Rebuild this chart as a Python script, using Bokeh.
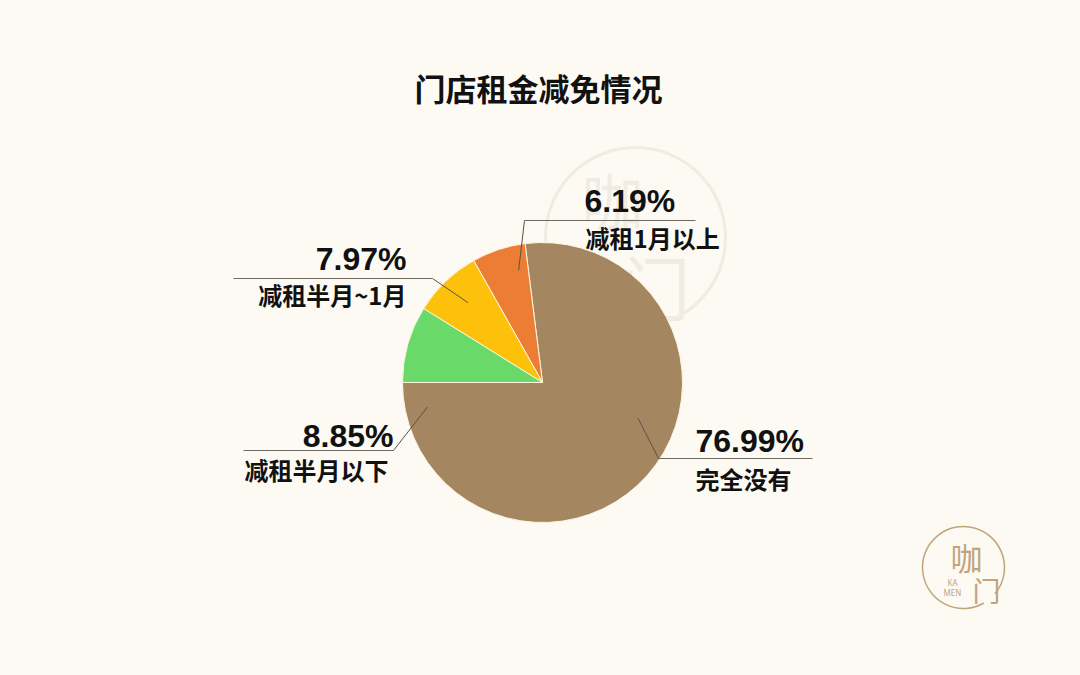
import math
from bokeh.plotting import figure
from bokeh.models import Range1d, ColumnDataSource
from bokeh.core.properties import value
from bokeh.embed import file_html
from bokeh.resources import INLINE

# ---------------- data ----------------
categories = ["完全没有", "减租1月以上", "减租半月~1月", "减租半月以下"]
shares = [76.99, 6.19, 7.97, 8.85]
pct_labels = ["76.99%", "6.19%", "7.97%", "8.85%"]
colors = ["#A48661", "#EC7D34", "#FDC10C", "#69DA69"]
title_text = "门店租金减免情况"

# ---------------- layout (page coords: x right, y up; page is 1080x675) ----------------
W, H = 1064, 659
BG = "#FCFAF3"
CX, CY, R = 542, 675 - 382, 140
START_DEG = 180.0

leader_polar = [(-20.6, 0.73), (102.0, 0.82), (133.0, 0.78), (192.0, 0.84)]
elbow_xy = [(658, 458), (524, 220), (432, 278), (393, 450)]
line_end_x = [812, 695, 233, 243]
pct_xy = [(695, 440), (584, 200), (406, 258), (393, 435)]
cat_xy = [(695, 478), (585, 237), (406, 294), (388, 469)]
aligns = ["left", "left", "right", "right"]

p = figure(width=W, height=H, output_backend="svg", toolbar_location=None,
           x_range=Range1d(0, W), y_range=Range1d(675 - H, 675),
           min_border=0, background_fill_color=BG, border_fill_color=BG,
           outline_line_color=None, match_aspect=False)
p.axis.visible = False
p.grid.visible = False

# ---------------- watermark (large, faint) ----------------
WM = "#F0ECE3"
p.circle(x=[635], y=[675 - 237], radius=90, fill_color=None,
         line_color=WM, line_width=3)
p.text(x=[612], y=[675 - 198], text=["咖"], text_font=value("Noto Sans CJK SC"),
       text_font_size="62px", text_color=WM, text_align="center",
       text_baseline="middle")
p.text(x=[655], y=[675 - 285], text=["门"], text_font=value("Noto Sans CJK SC"),
       text_font_size="70px", text_color=WM, text_align="center",
       text_baseline="middle")

# ---------------- pie ----------------
total = sum(shares)
starts, ends = [], []
acc = START_DEG
for s in shares:
    starts.append(math.radians(acc))
    acc += s / total * 360.0
    ends.append(math.radians(acc))
src = ColumnDataSource(dict(start=starts, end=ends, color=colors))
p.wedge(x=CX, y=CY, radius=R, start_angle="start", end_angle="end",
        fill_color="color", line_color="#FFF6E0", line_width=1, source=src)

# ---------------- leaders & labels ----------------
for i in range(len(shares)):
    ang, rf = leader_polar[i]
    ax = CX + R * rf * math.cos(math.radians(ang))
    ay = CY + R * rf * math.sin(math.radians(ang))
    ex, ey = elbow_xy[i]
    ey = 675 - ey
    p.line(x=[ax, ex], y=[ay, ey], line_color="#5A5248", line_width=1)
    p.line(x=[ex, line_end_x[i]], y=[ey, ey], line_color="#6E6A64", line_width=1)
    px, py = pct_xy[i]
    p.text(x=[px], y=[675 - py], text=[pct_labels[i]],
           text_font=value("Liberation Sans"), text_font_style="bold",
           text_font_size="32px", text_color="#111111",
           text_align=aligns[i], text_baseline="middle")
    qx, qy = cat_xy[i]
    p.text(x=[qx], y=[675 - qy], text=[categories[i]],
           text_font=value("Noto Sans CJK SC"), text_font_style="bold",
           text_font_size="24px", text_color="#111111",
           text_align=aligns[i], text_baseline="middle")

# ---------------- title ----------------
p.text(x=[538], y=[675 - 87], text=[title_text],
       text_font=value("Noto Sans CJK SC"), text_font_style="bold",
       text_font_size="31px", text_color="#111111",
       text_align="center", text_baseline="middle")

# ---------------- small logo bottom-right ----------------
LOGO = "#C2A47C"
p.arc(x=[963], y=[675 - 567], radius=41, start_angle=math.radians(-40),
      end_angle=math.radians(300), line_color=LOGO, line_width=1.5)
p.text(x=[966], y=[675 - 556], text=["咖"], text_font=value("Noto Sans CJK SC"),
       text_font_size="32px", text_color=LOGO, text_align="center",
       text_baseline="middle")
p.text(x=[986], y=[675 - 589], text=["门"], text_font=value("Noto Sans CJK SC"),
       text_font_size="28px", text_color=LOGO, text_align="center",
       text_baseline="middle")
p.text(x=[952], y=[675 - 582], text=["KA"], text_font=value("Noto Sans"),
       text_font_size="8px", text_color=LOGO, text_align="center",
       text_baseline="middle")
p.text(x=[952], y=[675 - 592], text=["MEN"], text_font=value("Noto Sans"),
       text_font_size="8px", text_color=LOGO, text_align="center",
       text_baseline="middle")

html = file_html(p, INLINE)
html = html.replace("<head>", "<head><style>html,body{background:%s;}</style>" % BG, 1)
open("out.html", "w").write(html)
